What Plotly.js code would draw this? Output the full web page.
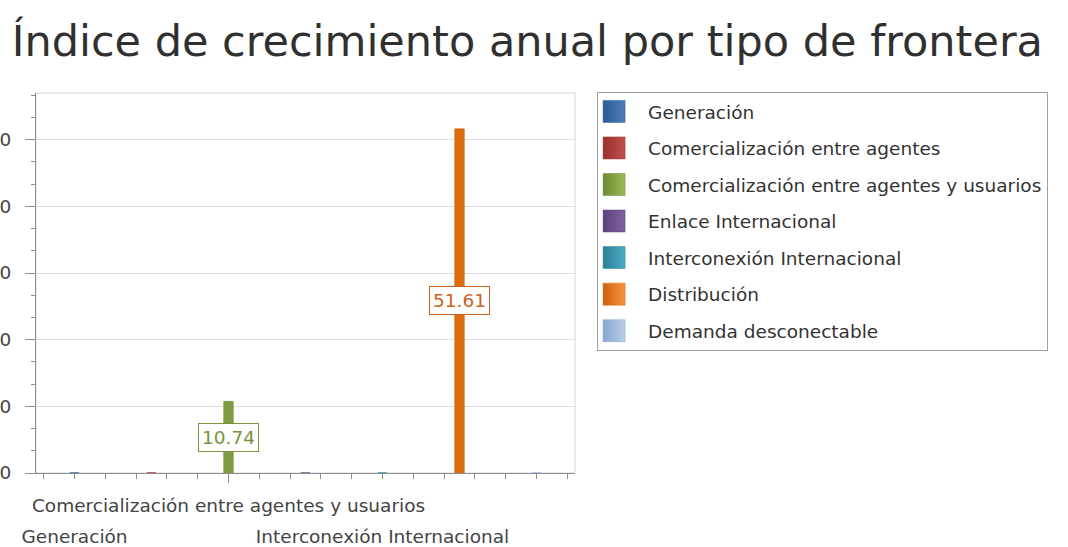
<!DOCTYPE html>
<html><head><meta charset="utf-8">
<script src="https://cdn.plot.ly/plotly-3.0.1.min.js"></script>
<style>
html,body{margin:0;padding:0;background:#fff;}
#chart{width:1068px;height:547px;}
</style>
</head><body><div id="chart"></div>
<script>
var categories = ["Generación","Comercialización entre agentes","Comercialización entre agentes y usuarios","Enlace Internacional","Interconexión Internacional","Distribución","Demanda desconectable"];
var values = [0, 0, 10.74, 0, 0, 51.61, 0];
var colors = ["#3a6aa6","#a83a38","#7f9c40","#6a4f8c","#3592a8","#dc6c10","#9ab7dc"];
var swatchDark = ["#2c5a93","#98302e","#6c8a33","#5a4279","#2a7f93","#d0600a","#86a6d0"];
var swatchLight = ["#4a7ebb","#c0504d","#9bbb59","#8064a2","#4bacc6","#f79646","#b9cde6"];
var labelColors = ["#3a6aa6","#a83a38","#77933c","#6a4f8c","#3592a8","#c8641e","#9ab7dc"];
var rowOneTicks = [2];
var rowTwoTicks = [0, 4];

var FONT = "DejaVu Sans";
var FS = 18.5;
var traces = categories.map(function(c, i){
  return {type:"bar", name:c, x:[i], y:[values[i]], width:0.12,
    marker:{color:colors[i], line:{color:colors[i], width:1}},
    legendgroup:"g"+i, hoverinfo:"name+y"};
});
// helper invisible trace on xaxis2 to carry second-row labels
traces.push({type:"scatter", x:[0], y:[0], xaxis:"x2", yaxis:"y", mode:"markers",
  marker:{opacity:0}, showlegend:false, hoverinfo:"skip"});

var annotations = [];
values.forEach(function(v, i){
  if (v > 0) {
    annotations.push({x:i, y:v/2, xref:"x", yref:"y", text:v.toFixed(2), showarrow:false,
      font:{family:FONT, size:FS, color:labelColors[i]}, bgcolor:"#ffffff",
      bordercolor:labelColors[i], borderwidth:1, borderpad:3});
  }
});

var layout = {
  width:1068, height:547,
  margin:{l:36, r:493, t:93, b:74},
  paper_bgcolor:"#ffffff", plot_bgcolor:"#ffffff",
  font:{family:FONT, size:FS, color:"#444"},
  title:{text:"Índice de crecimiento anual por tipo de frontera", x:0.011, xanchor:"left",
    y:0.925, yanchor:"middle", yref:"container", font:{family:FONT, size:43, color:"#303030"}},
  barmode:"overlay",
  showlegend:true,
  legend:{x:1.041, xanchor:"left", y:1.003, yanchor:"top", bordercolor:"#a0a0a0", borderwidth:1,
    bgcolor:"#ffffff", font:{family:FONT, size:FS, color:"#333"}, traceorder:"grouped",
    tracegroupgap:9.5, itemwidth:40},
  xaxis:{range:[-0.5,6.5], tickmode:"array", tickvals:rowOneTicks,
    ticktext:rowOneTicks.map(function(i){return categories[i];}),
    showgrid:false, zeroline:false, showline:true, linecolor:"#8c8c8c", linewidth:1,
    ticks:"outside", ticklen:9, tickcolor:"#8c8c8c", ticklabelstandoff:7,
    tickfont:{family:FONT, size:FS, color:"#444"},
    minor:{dtick:0.4, tick0:0, ticks:"outside", ticklen:5, tickcolor:"#8c8c8c", showgrid:false}},
  xaxis2:{overlaying:"x", matches:"x", anchor:"y", side:"bottom", tickmode:"array",
    tickvals:rowTwoTicks, ticktext:rowTwoTicks.map(function(i){return categories[i];}),
    showgrid:false, zeroline:false, showline:false, ticks:"", ticklabelstandoff:50,
    tickfont:{family:FONT, size:FS, color:"#444"}},
  yaxis:{range:[0,57], dtick:10, tick0:0, showgrid:true, gridcolor:"#dedede", gridwidth:1,
    zeroline:false, showline:true, linecolor:"#8c8c8c", linewidth:1,
    ticks:"outside", ticklen:10, tickcolor:"#8c8c8c", ticklabelstandoff:10,
    tickfont:{family:FONT, size:FS, color:"#444"},
    minor:{dtick:10/3, tick0:0, ticks:"outside", ticklen:4, tickcolor:"#8c8c8c", showgrid:false}},
  shapes:[{type:"rect", xref:"paper", yref:"paper", x0:0, x1:1, y0:0, y1:1,
    line:{color:"#d6d6d6", width:1}, layer:"below"}],
  annotations:annotations
};
Plotly.newPlot("chart", traces, layout, {displayModeBar:false, staticPlot:true}).then(function(gd){
  // enlarge legend swatches and give them the soft gradient of the original
  var svg = gd.querySelector("svg.main-svg");
  var ns = "http://www.w3.org/2000/svg";
  var defs = document.createElementNS(ns, "defs");
  colors.forEach(function(c, i){
    var g = document.createElementNS(ns, "linearGradient");
    g.setAttribute("id", "sw" + i);
    g.setAttribute("x1", "0"); g.setAttribute("x2", "1"); g.setAttribute("y1", "0"); g.setAttribute("y2", "0");
    var s1 = document.createElementNS(ns, "stop"); s1.setAttribute("offset", "0"); s1.setAttribute("stop-color", swatchDark[i]);
    var s2 = document.createElementNS(ns, "stop"); s2.setAttribute("offset", "1"); s2.setAttribute("stop-color", swatchLight[i]);
    g.appendChild(s1); g.appendChild(s2); defs.appendChild(g);
  });
  svg.insertBefore(defs, svg.firstChild);
  var paths = gd.querySelectorAll(".legend .traces .legendpoints path");
  paths.forEach(function(p, i){
    p.setAttribute("d", "M2,11H-20V-11H2Z");
    p.style.fill = "url(#sw" + i + ")";
    p.style.stroke = swatchDark[i];
    p.style.strokeWidth = "0.5px";
  });
});
</script></body></html>
